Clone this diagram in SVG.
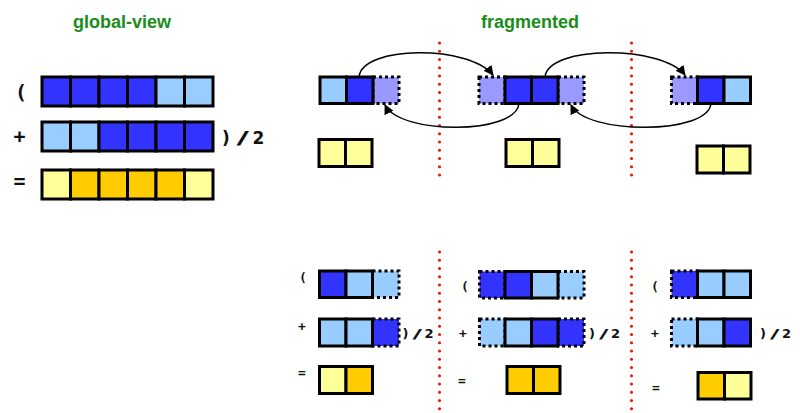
<svg xmlns="http://www.w3.org/2000/svg" width="800" height="413" viewBox="0 0 800 413">
<defs>
<style>
.b{fill:#3333ff}.lb{fill:#99ccff}.lav{fill:#9999ff}.ly{fill:#ffff99}.g{fill:#ffcc00}
.s{stroke:#000;stroke-width:3}
.d{stroke:#000;stroke-width:3;stroke-dasharray:3 3}
.t{font-family:"DejaVu Sans Mono","Liberation Mono",monospace;font-weight:bold;fill:#111}
.h{font-family:"DejaVu Sans","Liberation Sans",sans-serif;font-weight:bold;fill:#111}
.title{font-family:"Liberation Sans",Arial,sans-serif;font-weight:bold;font-size:18px;fill:#1a8c1a;text-anchor:middle}
.sep{stroke:#e0200f;stroke-width:3.2;stroke-linecap:round;stroke-dasharray:0 8.25;fill:none}
.arc{fill:none;stroke:#000;stroke-width:1.5}
</style>
<marker id="ah" markerWidth="10" markerHeight="10" viewBox="0 0 10 10" refX="9" refY="5" orient="auto" markerUnits="userSpaceOnUse">
<path d="M0,0 L10,5 L0,10 Z" fill="#000"/>
</marker>
</defs>
<rect width="800" height="413" fill="#fff"/>
<text class="title" x="122" y="27.5">global-view</text>
<text class="title" x="530" y="27.5">fragmented</text>

<g id="separators">
<line class="sep" x1="439.5" y1="43" x2="439.5" y2="178"/>
<line class="sep" x1="631.5" y1="43" x2="631.5" y2="178"/>
<line class="sep" x1="439.5" y1="252" x2="439.5" y2="413"/>
<line class="sep" x1="631.5" y1="252" x2="631.5" y2="413"/>
</g>

<g id="global-view">
<text class="t" x="21" y="99" font-size="20" text-anchor="middle">(</text>
<text class="t" x="19.5" y="143" font-size="20" text-anchor="middle">+</text>
<text class="t" x="19.5" y="188" font-size="20" text-anchor="middle">=</text>
<text class="h" x="222" y="143.5" font-size="17">)</text>
<text class="h" transform="translate(236.5,143.5) scale(2,1)" font-size="17">/</text>
<text class="h" x="252.5" y="143.5" font-size="17">2</text>
<g class="s">
<rect class="b" x="42" y="77" width="28.5" height="29"/>
<rect class="b" x="70.5" y="77" width="28.5" height="29"/>
<rect class="b" x="99" y="77" width="28.5" height="29"/>
<rect class="b" x="127.5" y="77" width="28.5" height="29"/>
<rect class="lb" x="156" y="77" width="28.5" height="29"/>
<rect class="lb" x="184.5" y="77" width="28.5" height="29"/>
<rect class="lb" x="42" y="122" width="28.5" height="29"/>
<rect class="lb" x="70.5" y="122" width="28.5" height="29"/>
<rect class="b" x="99" y="122" width="28.5" height="29"/>
<rect class="b" x="127.5" y="122" width="28.5" height="29"/>
<rect class="b" x="156" y="122" width="28.5" height="29"/>
<rect class="b" x="184.5" y="122" width="28.5" height="29"/>
<rect class="ly" x="42" y="170" width="28.5" height="29"/>
<rect class="g" x="70.5" y="170" width="28.5" height="29"/>
<rect class="g" x="99" y="170" width="28.5" height="29"/>
<rect class="g" x="127.5" y="170" width="28.5" height="29"/>
<rect class="g" x="156" y="170" width="28.5" height="29"/>
<rect class="ly" x="184.5" y="170" width="28.5" height="29"/>
</g>
</g>

<g id="frag1-top">
<rect class="lav d" x="373" y="77" width="26" height="26.5"/>
<rect class="lb s" x="320" y="77" width="26.5" height="26.5"/>
<rect class="b s" x="346.5" y="77" width="26.5" height="26.5"/>
<rect class="ly s" x="319" y="139.5" width="26.5" height="27"/>
<rect class="ly s" x="345.5" y="139.5" width="26.5" height="27"/>
</g>
<g id="frag2-top">
<rect class="lav d" x="479" y="77" width="26" height="26.5"/>
<rect class="lav d" x="558" y="77" width="26" height="26.5"/>
<rect class="b s" x="505" y="77" width="26.5" height="26.5"/>
<rect class="b s" x="531.5" y="77" width="26.5" height="26.5"/>
<rect class="ly s" x="506" y="139.5" width="26.5" height="27"/>
<rect class="ly s" x="532.5" y="139.5" width="26.5" height="27"/>
</g>
<g id="frag3-top">
<rect class="lav d" x="671.5" y="77" width="26" height="26.5"/>
<rect class="b s" x="697.5" y="77" width="26.5" height="26.5"/>
<rect class="lb s" x="724" y="77" width="26.5" height="26.5"/>
<rect class="ly s" x="697" y="146" width="26.5" height="27"/>
<rect class="ly s" x="723.5" y="146" width="26.5" height="27"/>
</g>

<g id="connectors">
<path class="arc" d="M359,77 C362,45 470,45 493,75" marker-end="url(#ah)"/>
<path class="arc" d="M519,103.5 C516,135 400,135 385,105" marker-end="url(#ah)"/>
<path class="arc" d="M545,77 C548,45 662,45 685,75" marker-end="url(#ah)"/>
<path class="arc" d="M711,103.5 C708,135 586,135 571,105" marker-end="url(#ah)"/>
</g>

<g id="frag1-bottom">
<text class="t" x="303" y="282" font-size="13" text-anchor="middle">(</text>
<text class="t" x="302" y="331" font-size="13" text-anchor="middle">+</text>
<text class="t" x="302" y="377" font-size="13" text-anchor="middle">=</text>
<text class="h" x="402.5" y="337.5" font-size="13">)</text>
<text class="h" transform="translate(412.5,337.5) scale(2,1)" font-size="13">/</text>
<text class="h" x="424.5" y="337.5" font-size="13">2</text>
<rect class="lb d" x="372.5" y="271" width="26.5" height="26.5"/>
<rect class="b s" x="319.5" y="271" width="26.5" height="26.5"/>
<rect class="lb s" x="346" y="271" width="26.5" height="26.5"/>
<rect class="b d" x="372.5" y="319" width="26.5" height="27"/>
<rect class="lb s" x="319.5" y="319" width="26.5" height="27"/>
<rect class="lb s" x="346" y="319" width="26.5" height="27"/>
<rect class="ly s" x="319.5" y="366.5" width="26.5" height="27"/>
<rect class="g s" x="346" y="366.5" width="26.5" height="27"/>
</g>

<g id="frag2-bottom">
<text class="t" x="465" y="291" font-size="13" text-anchor="middle">(</text>
<text class="t" x="463" y="338" font-size="13" text-anchor="middle">+</text>
<text class="t" x="462" y="385" font-size="13" text-anchor="middle">=</text>
<text class="h" x="589" y="337.5" font-size="13">)</text>
<text class="h" transform="translate(599,337.5) scale(2,1)" font-size="13">/</text>
<text class="h" x="611" y="337.5" font-size="13">2</text>
<rect class="b d" x="479.5" y="271.5" width="25.5" height="26.5"/>
<rect class="lb d" x="558" y="271.5" width="26" height="26.5"/>
<rect class="b s" x="505" y="271.5" width="26.5" height="26.5"/>
<rect class="lb s" x="531.5" y="271.5" width="26.5" height="26.5"/>
<rect class="lb d" x="479.5" y="319" width="25.5" height="27"/>
<rect class="b d" x="558" y="319" width="26" height="27"/>
<rect class="lb s" x="505" y="319" width="26.5" height="27"/>
<rect class="b s" x="531.5" y="319" width="26.5" height="27"/>
<rect class="g s" x="507" y="366.5" width="26.5" height="27"/>
<rect class="g s" x="533.5" y="366.5" width="26.5" height="27"/>
</g>

<g id="frag3-bottom">
<text class="t" x="655" y="291" font-size="13" text-anchor="middle">(</text>
<text class="t" x="655" y="338" font-size="13" text-anchor="middle">+</text>
<text class="t" x="656" y="392" font-size="13" text-anchor="middle">=</text>
<text class="h" x="760" y="337.5" font-size="13">)</text>
<text class="h" transform="translate(770,337.5) scale(2,1)" font-size="13">/</text>
<text class="h" x="782" y="337.5" font-size="13">2</text>
<rect class="b d" x="671.5" y="271" width="26" height="26.5"/>
<rect class="lb s" x="697.5" y="271" width="26.5" height="26.5"/>
<rect class="lb s" x="724" y="271" width="26.5" height="26.5"/>
<rect class="lb d" x="671.5" y="319" width="26" height="27"/>
<rect class="lb s" x="697.5" y="319" width="26.5" height="27"/>
<rect class="b s" x="724" y="319" width="26.5" height="27"/>
<rect class="g s" x="698" y="372.5" width="26.5" height="26.5"/>
<rect class="ly s" x="724.5" y="372.5" width="26.5" height="26.5"/>
</g>
</svg>
